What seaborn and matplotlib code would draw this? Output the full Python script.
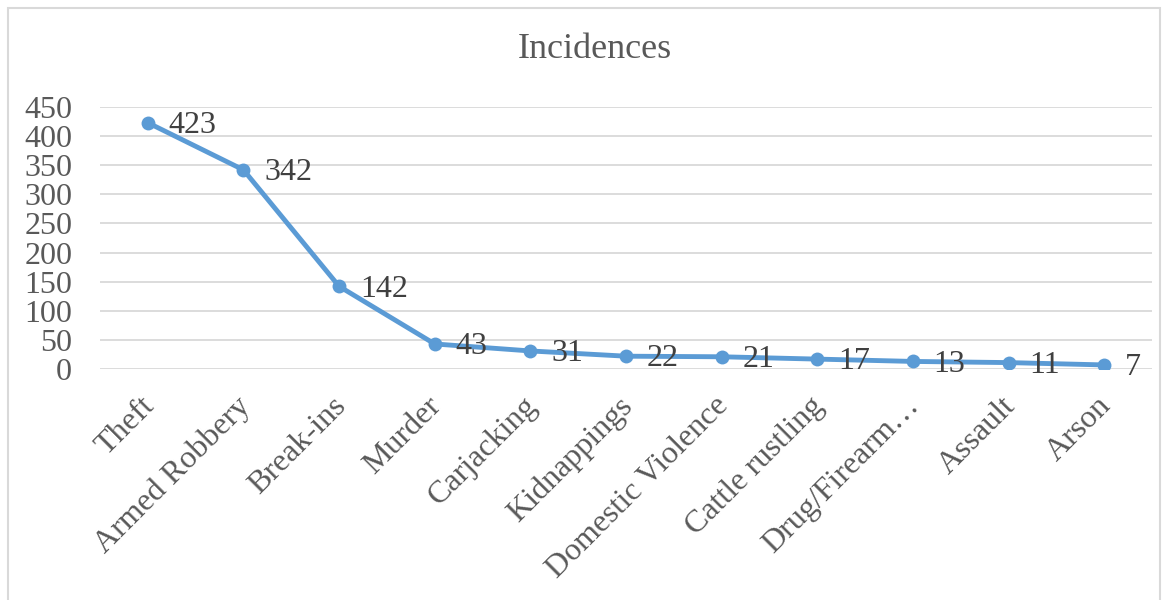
import numpy as np
import pandas as pd
import matplotlib
matplotlib.use('Agg')
import matplotlib.pyplot as plt
import matplotlib.transforms as mtransforms
import seaborn as sns
from matplotlib.patches import Rectangle

crimes = ['Theft', 'Armed Robbery', 'Break-ins', 'Murder', 'Carjacking', 'Kidnappings',
          'Domestic Violence', 'Cattle rustling', 'Drug/Firearm\u2026', 'Assault', 'Arson']
incidences = [423, 342, 142, 43, 31, 22, 21, 17, 13, 11, 7]
y_ticks = [0, 50, 100, 150, 200, 250, 300, 350, 400, 450]

df = pd.DataFrame({'crime': crimes, 'incidences': incidences})

sns.set_theme(style='white')
plt.rcParams['font.family'] = ['Liberation Serif', 'DejaVu Serif']

fig = plt.figure(figsize=(11.71, 6), dpi=100)
ax = fig.add_axes([100 / 1171, 1 - 369 / 600, 1052 / 1171, 262 / 600])

# border round the whole chart
fig.patches.append(Rectangle((8 / 1171, -0.05), 1152 / 1171, 1.05 - 8 / 600,
                             transform=fig.transFigure, fill=False,
                             edgecolor='#d9d9d9', linewidth=1.5))

sns.lineplot(data=df, x='crime', y='incidences', ax=ax, sort=False,
             color='#5b9bd5', linewidth=3.5, marker='o', markersize=10,
             markeredgewidth=0)

for i, v in enumerate(incidences):
    ax.annotate(str(v), (i, v), xytext=(15, -2), textcoords='offset points',
                ha='left', va='center', fontsize=23, color='#404040')

ax.set_xlim(-0.5, len(crimes) - 0.5)
ax.set_ylim(0, 450)
ax.set_yticks(y_ticks)
ax.yaxis.grid(True, color='#d9d9d9', linewidth=1.3)
ax.set_axisbelow(True)
for s in ax.spines.values():
    s.set_visible(False)
ax.set_xlabel('')
ax.set_ylabel('')
ax.tick_params(axis='y', length=0, pad=20, labelsize=23, labelcolor='#595959')
ax.tick_params(axis='x', length=0, pad=16, labelsize=23, labelcolor='#595959')
ax.set_xticks(range(len(crimes)))
ax.set_xticklabels(crimes, rotation=45, ha='right', rotation_mode='anchor')

# nudge the rotated labels a little to the left
shift = mtransforms.ScaledTranslation(-0.08, 0, fig.dpi_scale_trans)
for lab in ax.get_xticklabels():
    lab.set_transform(lab.get_transform() + shift)

fig.suptitle('Incidences', x=595 / 1171, y=1 - 50 / 600, va='center',
             fontsize=26, color='#595959')

fig.savefig('out.png', dpi=100, facecolor='white')
